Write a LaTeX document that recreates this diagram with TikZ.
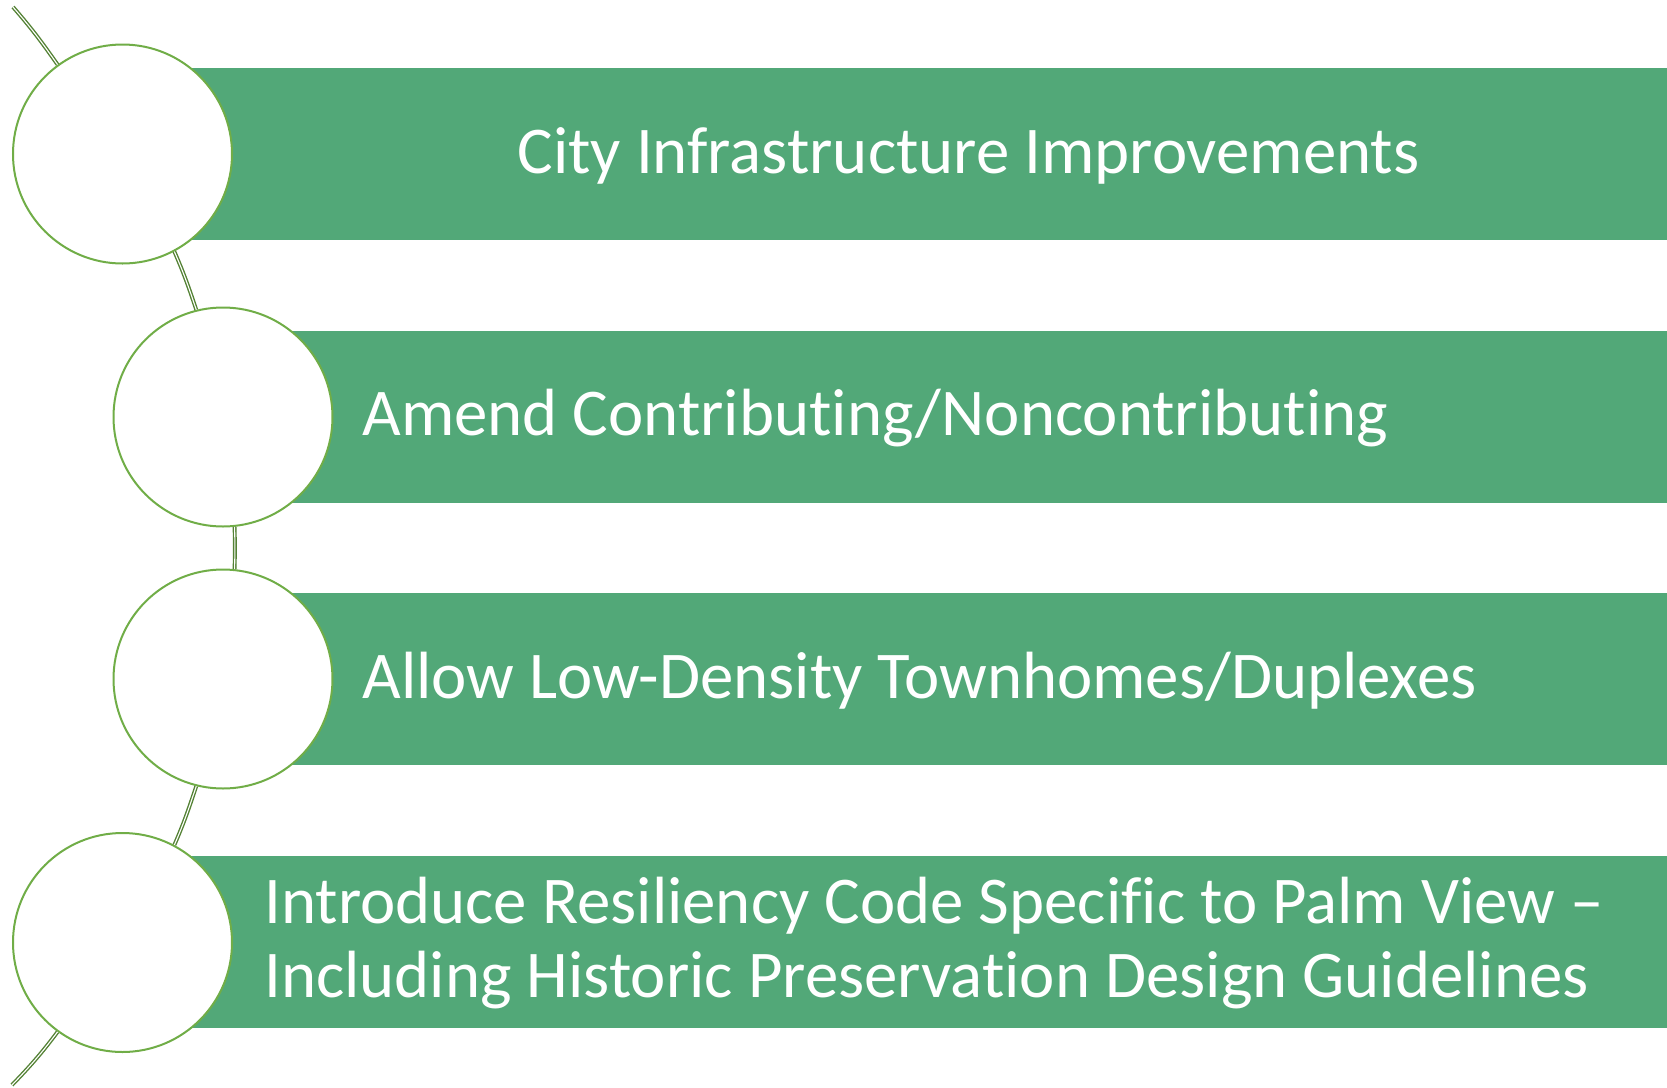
\documentclass[tikz,border=0pt]{standalone}
\usepackage{fontspec}
\setmainfont{Carlito}[Ligatures=NoCommon]
\usetikzlibrary{positioning}

\definecolor{barGreen}{HTML}{52A878}
\definecolor{ringGreen}{HTML}{70AD47}
\definecolor{linkGreen}{HTML}{548235}

\tikzset{
  ring/.style={circle, draw=ringGreen, line width=1pt, fill=white,
    minimum size=109.5pt, inner sep=0pt},
  link/.style={draw=linkGreen, line width=0.7pt, double=white,
    double distance=0.55pt},
  label/.style={text=white, inner sep=0pt, anchor=base west,
    font=\fontsize{33.4}{37}\selectfont},
}

\begin{document}
\begin{tikzpicture}[x=0.5pt,y=-0.5pt]
		\useasboundingbox (0,0) rectangle (1667,1088);
		% bars
		\fill[barGreen] (122,68) rectangle (1667,240);
		\fill[barGreen] (223,331) rectangle (1667,503);
		\fill[barGreen] (223,593) rectangle (1667,765);
		\fill[barGreen] (122,856) rectangle (1667,1028);
		
		\node[label] (t1) at (517,173) {City Infrastructure Improvements};
		\node[label] (t2) at (362,435.5) {Amend Contributing/Noncontributing};
		\node[label] (t3) at (362,698) {Allow Low-Density Townhomes/Duplexes};
		\node[label, align=left] (t4)
		at (264,997) {Introduce Resiliency Code Specific to Palm View –\\
			Including Historic Preservation Design Guidelines};
		
		% circles
		\node[ring] (c1) at (122.5,154) {};
		\node[ring] (c2) at (223,417) {};
		\node[ring] (c3) at (223,679) {};
		\node[ring] (c4) at (122.5,942.5) {};
		\coordinate (top) at (13,7);
		\coordinate (bot) at (12,1085);
		
		% one large arc, cut into pieces between the circles
		\draw[link] (top) to[out=-49, in=125] (c1.126);
		\draw[link] (c1.-62) to[out=-66.5, in=108.5] (c2.104);
		\draw[link] (c2.-84) to[out=-88.3, in=88.3] (c3.84);
		\draw[link] (c3.-104) to[out=-108.5, in=66.5] (c4.62);
		\draw[link] (c4.-126) to[out=-127, in=46] (bot);
\end{tikzpicture}
\end{document}
